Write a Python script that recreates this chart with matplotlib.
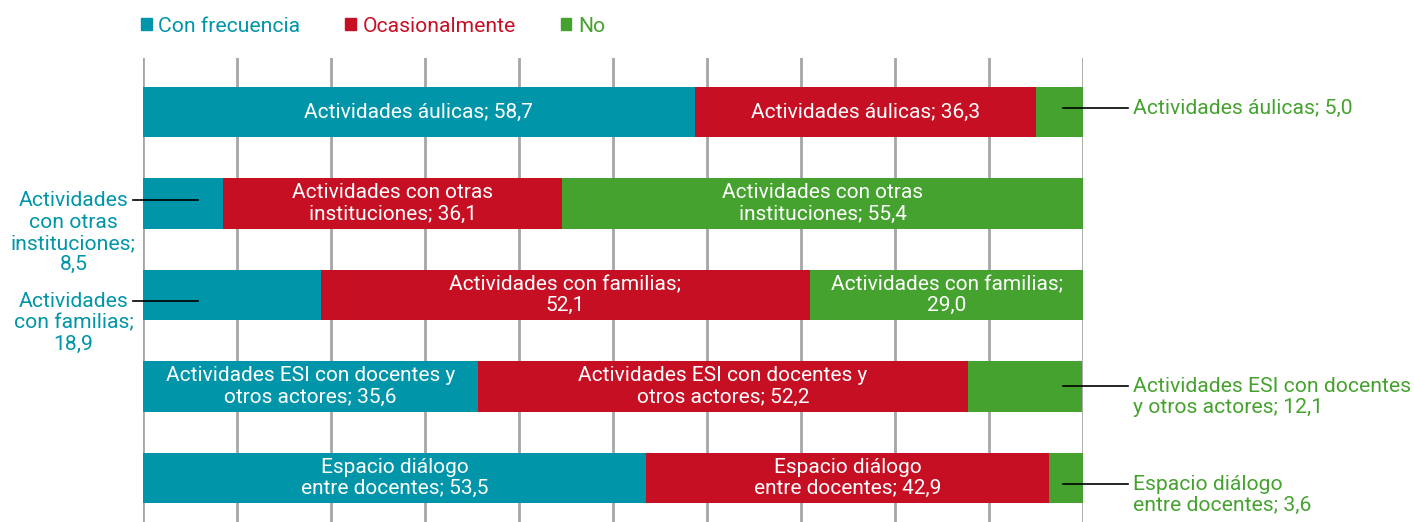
import matplotlib
matplotlib.use("Agg")
import matplotlib.pyplot as plt
from matplotlib.patches import Patch

plt.rcParams['font.family'] = ['Roboto', 'DejaVu Sans']

# datos
series = ["Con frecuencia", "Ocasionalmente", "No"]
con_frecuencia = [58.7, 8.5, 18.9, 35.6, 53.5]
ocasionalmente = [36.3, 36.1, 52.1, 52.2, 42.9]
no = [5.0, 55.4, 29.0, 12.1, 3.6]

# rotulos dentro de las barras (prefijo antes del valor)
names_in = ["Actividades áulicas; ",
            "Actividades con otras\ninstituciones; ",
            "Actividades con familias;\n",
            "Actividades ESI con docentes y\notros actores; ",
            "Espacio diálogo\nentre docentes; "]
# rotulos fuera de las barras
names_left = ["Actividades áulicas; ",
              "Actividades\ncon otras\ninstituciones;\n",
              "Actividades\ncon familias;\n",
              "Actividades ESI con docentes\ny otros actores; ",
              "Espacio diálogo\nentre docentes; "]
names_right = ["Actividades áulicas; ",
               "Actividades con otras\ninstituciones; ",
               "Actividades con familias; ",
               "Actividades ESI con docentes\ny otros actores; ",
               "Espacio diálogo\nentre docentes; "]
leader_dy = [-0.045, -0.035, 0.065, -0.01, 0.065]

colors = ["#0095A9", "#C70F24", "#45A22F"]

fig = plt.figure(figsize=(14.14, 5.22), dpi=100)
ax = fig.add_axes([143 / 1414, 0, 940 / 1414, 464 / 522])

def fmt(v):
    return f"{v:.1f}".replace(".", ",")

n = len(con_frecuencia)
rows = list(range(n))
left = [0.0] * n
for s, vals in enumerate([con_frecuencia, ocasionalmente, no]):
    ax.barh(rows, vals, left=left, height=0.55, color=colors[s], zorder=2)
    for i, v in enumerate(vals):
        if v >= 20:
            ax.text(left[i] + v / 2, i, names_in[i] + fmt(v), ha="center", va="center",
                    color="white", fontsize=15, linespacing=1.15, zorder=3)
            left[i] += v
            continue
        y = i + leader_dy[i]
        if s == 0:
            ax.plot([-1.1, 5.9], [y, y], color="black", lw=1.2, zorder=4, clip_on=False)
            ax.annotate(names_left[i] + fmt(v), xy=(-7.4, y), xytext=(0, 6.5),
                        textcoords="offset points", ha="center", va="top",
                        color=colors[s], fontsize=15.2, linespacing=1.15,
                        annotation_clip=False)
        else:
            ax.plot([97.9, 104.8], [y, y], color="black", lw=1.2, zorder=4, clip_on=False)
            ax.annotate(names_right[i] + fmt(v), xy=(105.3, y), xytext=(0, 6.5),
                        textcoords="offset points", ha="left", va="top",
                        color=colors[s], fontsize=15.2, linespacing=1.15,
                        annotation_clip=False)
        left[i] += v

ax.set_xlim(0, 100)
ax.set_ylim(4.48, -0.59)
ax.set_xticks(range(0, 101, 10))
ax.set_yticks([])
ax.tick_params(axis="x", length=0, labelbottom=False)
ax.grid(axis="x", color="#A6A6A6", lw=2)
ax.set_axisbelow(True)
for sp in ax.spines.values():
    sp.set_visible(False)

handles = [Patch(color=c) for c in colors]
leg = fig.legend(handles, series, loc="center left", bbox_to_anchor=(141 / 1414, 1 - 26 / 522),
                 ncol=3, frameon=False, fontsize=15.2, handlelength=0.5, handleheight=0.5,
                 handletextpad=0.3, columnspacing=2.15, borderpad=0, borderaxespad=0)
for t, c in zip(leg.get_texts(), colors):
    t.set_color(c)

fig.savefig("out.png", dpi=100)
